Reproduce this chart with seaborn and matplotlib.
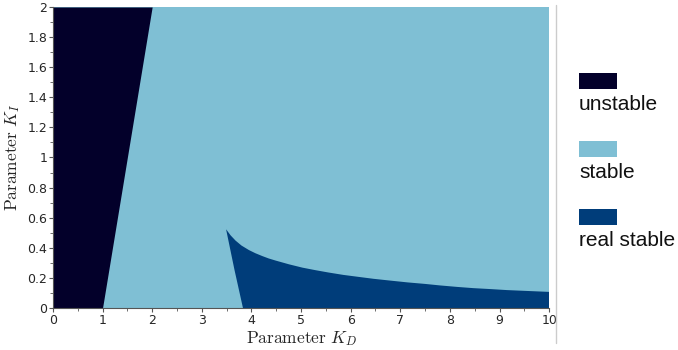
import matplotlib
matplotlib.use("Agg")
import matplotlib.pyplot as plt
import seaborn as sns
from matplotlib.patches import Rectangle
from matplotlib.lines import Line2D
from matplotlib.ticker import MultipleLocator

# Frontière de la zone instable (droite K_D en fonction de K_I)
unstable_ki = [0.0, 2.0]
unstable_kd = [1.0, 2.0]

# Zone "real stable" : courbe supérieure et bord gauche
real_top_kd = [3.49, 3.58, 3.68, 3.80, 3.95, 4.08, 4.22, 4.35, 4.49, 4.76, 5.03, 5.28, 5.55, 5.85,
               6.13, 6.46, 6.80, 7.15, 7.50, 7.80, 8.15, 8.47, 8.80, 9.15, 9.50, 10.0]
real_top_ki = [0.523, 0.483, 0.448, 0.415, 0.385, 0.364, 0.345, 0.329, 0.315, 0.290, 0.268, 0.252,
               0.236, 0.220, 0.208, 0.194, 0.182, 0.170, 0.160, 0.150, 0.140, 0.132, 0.126, 0.119,
               0.114, 0.107]
real_left_kd = [3.83, 3.66, 3.49]
real_left_ki = [0.0, 0.252, 0.523]

labels = ["unstable", "stable", "real stable"]
colors = ["#03002a", "#7fbfd4", "#003d7a"]

sns.set_style("ticks")
plt.rcParams["mathtext.fontset"] = "cm"

fig = plt.figure(figsize=(6.78, 3.5), dpi=100)
ax = fig.add_axes([0.078, 0.12, 0.732, 0.86])

# fond = zone stable
ax.set_facecolor(colors[1])
ax.fill_betweenx(unstable_ki, 0, unstable_kd, color=colors[0], lw=0)
poly_kd = real_top_kd + [10.0] + real_left_kd
poly_ki = real_top_ki + [0.0] + real_left_ki
ax.fill(poly_kd, poly_ki, color=colors[2], lw=0)

ax.set_xlim(0, 10)
ax.set_ylim(0, 2)
ax.xaxis.set_major_locator(MultipleLocator(1))
ax.xaxis.set_minor_locator(MultipleLocator(0.5))
ax.yaxis.set_major_locator(MultipleLocator(0.2))
ax.yaxis.set_minor_locator(MultipleLocator(0.1))
ax.set_yticklabels([f"{v:g}" for v in ax.get_yticks()])
ax.tick_params(which="major", length=3, width=0.8, color="#555555", labelsize=9, pad=1)
ax.tick_params(which="minor", length=2, width=0.6, color="#555555")
sns.despine(ax=ax)
for s in ["left", "bottom"]:
    ax.spines[s].set_color("#555555")
    ax.spines[s].set_linewidth(0.8)

ax.set_xlabel(r"$\mathrm{Parameter}\ K_D$", fontsize=12.5, labelpad=2)
ax.set_ylabel(r"$\mathrm{Parameter}\ K_I$", fontsize=12.5, labelpad=4)

# séparateur vertical et légende à droite
fig.add_artist(Line2D([0.82, 0.82], [0.02, 0.985], color="#cccccc", lw=1))
for i, (lab, col) in enumerate(zip(labels, colors)):
    top = 72.7 + i * 68
    fig.add_artist(Rectangle((579 / 678, 1 - (top + 16) / 350), 38 / 678, 16 / 350,
                             facecolor=col, edgecolor="none", transform=fig.transFigure))
    fig.text(579 / 678, 1 - (top + 37.5) / 350, lab, fontsize=15,
             family="Liberation Sans", color="#111111", va="baseline")

fig.savefig("out.png", dpi=100)
